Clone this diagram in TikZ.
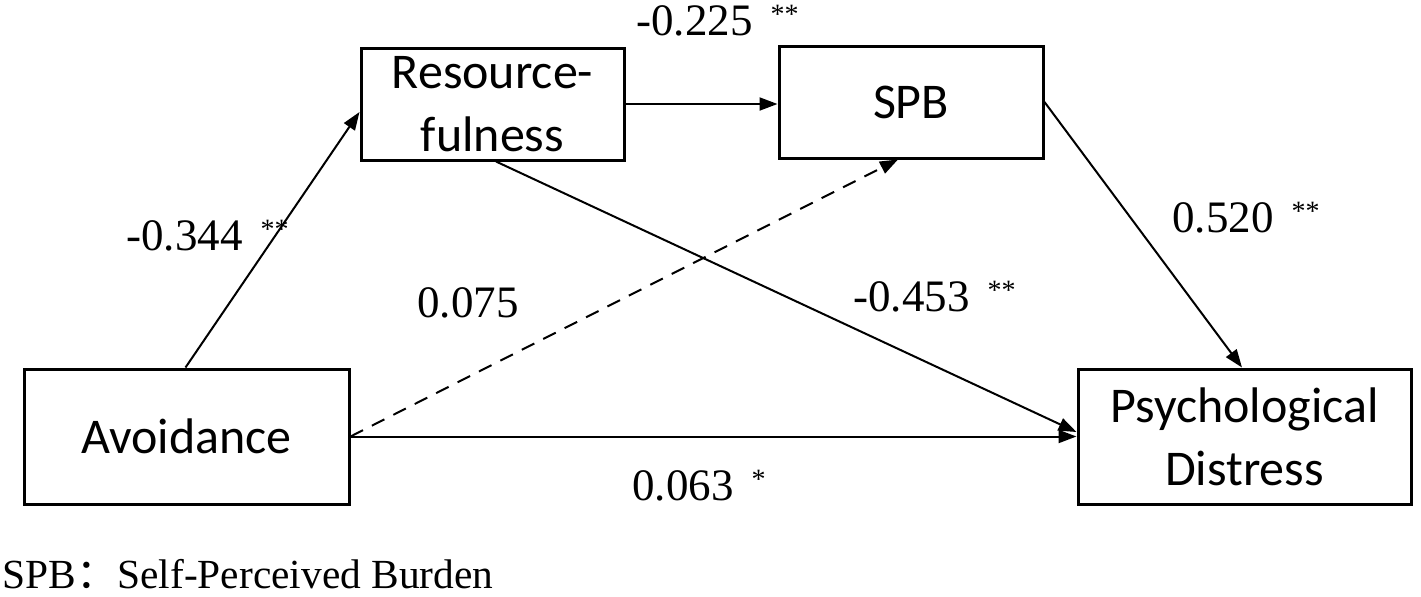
\documentclass[tikz,border=0pt]{standalone}
\usepackage{fontspec}
\setmainfont{Liberation Serif}
\newfontfamily\boxfont{Carlito}
\newfontfamily\cjk{Noto Sans CJK SC}
\usetikzlibrary{arrows.meta}
\newcommand\sigmark[1]{\hspace{0.4em}\raisebox{6pt}{\fontsize{14pt}{14pt}\selectfont #1}}
\begin{document}
\begin{tikzpicture}[x=0.5pt,y=-0.5pt,
  varbox/.style={draw,line width=1.5pt,inner sep=0pt,align=center,
    font=\boxfont\fontsize{25pt}{31.5pt}\selectfont},
  path/.style={line width=1pt,-{Triangle[length=9pt,width=6.5pt]}},
  dpath/.style={path,dash pattern=on 7pt off 5pt},
  coef/.style={anchor=base west,inner sep=0pt,font=\fontsize{22.5pt}{27pt}\selectfont}]
\useasboundingbox (0,0) rectangle (1421,596);
\node[varbox,minimum width=131.5pt,minimum height=56pt] (res) at (492.5,104) {Resource-\\fulness};
\node[varbox,minimum width=132pt,minimum height=56pt] (spb) at (911,102) {SPB};
\node[varbox,minimum width=162.5pt,minimum height=67.5pt] (avo) at (186.5,436.5) {Avoidance};
\node[varbox,minimum width=166.5pt,minimum height=67.5pt] (psy) at (1244.5,436.5) {Psychological\\Distress};
\draw[path] ([xshift=81.5pt]avo.north west) -- ([yshift=-4pt]res.west);
\draw[path] (res.east) -- (res.east -| spb.west);
\draw[path] ([xshift=1.75pt]res.south) -- ([yshift=2.25pt]psy.west);
\draw[path] (avo.east) -- (avo.east -| psy.west);
\draw[dpath] (avo.east) -- ([xshift=-6.5pt]spb.south);
\draw[path] (spb.east) -- ([xshift=-1.25pt]psy.north);
\node[coef] (l1) at (636,35) {-0.225\sigmark{**}};
\node[coef] (l2) at (126,250) {-0.344\sigmark{**}};
\node[coef] (l3) at (417,317) {0.075};
\node[coef] (l4) at (853,311) {-0.453\sigmark{**}};
\node[coef] (l5) at (1172,232) {0.520\sigmark{**}};
\node[coef] (l6) at (632,500) {0.063\sigmark{*}};
\node[anchor=base west,inner sep=0pt,font=\fontsize{20.7pt}{25pt}\selectfont] (note) at (2,588) {SPB{\cjk ：}Self-Perceived Burden};
\end{tikzpicture}
\end{document}
